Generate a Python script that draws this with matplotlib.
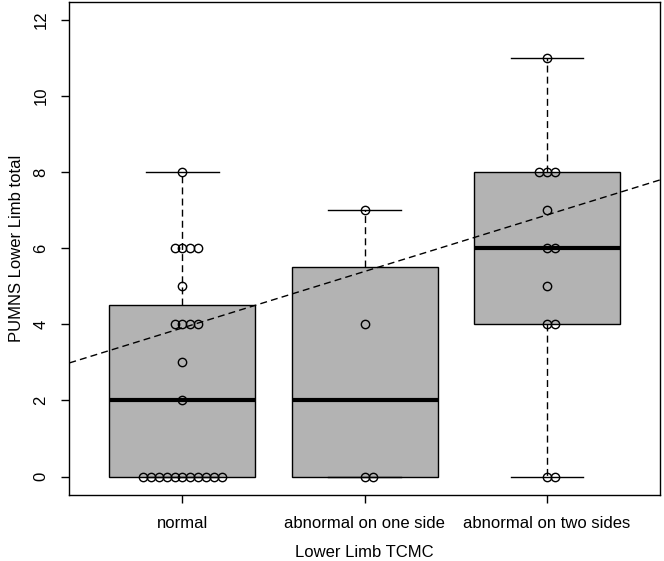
import numpy as np
import matplotlib
matplotlib.use("Agg")
import matplotlib.pyplot as plt

plt.rcParams['font.family'] = ['Liberation Sans', 'DejaVu Sans']

groups = ["normal", "abnormal on one side", "abnormal on two sides"]
normal = [0] * 11 + [2, 3, 4, 4, 4, 4, 5, 6, 6, 6, 6, 8]
one_side = [0, 0, 4, 7]
two_sides = [0, 0, 4, 4, 5, 6, 6, 7, 8, 8, 8, 11]
data = [normal, one_side, two_sides]
y_ticks = [0, 2, 4, 6, 8, 10, 12]


def fivenum(x):
    # Tukey hinges, as R's boxplot uses them
    x = np.sort(np.asarray(x, float))
    n = len(x)
    n4 = np.floor((n + 3) / 2) / 2
    d = np.array([1, n4, (n + 1) / 2, n + 1 - n4, n]) - 1
    return 0.5 * (x[np.floor(d).astype(int)] + x[np.ceil(d).astype(int)])


def box_stats(x):
    lo, q1, med, q3, hi = fivenum(x)
    iqr = q3 - q1
    x = np.asarray(x, float)
    inside = x[(x >= q1 - 1.5 * iqr) & (x <= q3 + 1.5 * iqr)]
    return dict(med=med, q1=q1, q3=q3, whislo=inside.min(), whishi=inside.max(), fliers=[])


def swarm_offsets(values, step):
    # same values spread out: 0, +1, -1, +2, -2 ... steps
    values = np.asarray(values, float)
    off = np.zeros(len(values))
    for v in np.unique(values):
        idx = np.where(values == v)[0]
        for k, i in enumerate(idx):
            j = (k + 1) // 2
            off[i] = j * step if k % 2 == 1 else -j * step
    return off


fig = plt.figure(figsize=(6.64, 5.61), dpi=100)
ax = fig.add_axes([0.1044, 0.118, 0.8896, 0.879])

positions = [1, 2, 3]
ax.bxp([box_stats(d) for d in data], positions=positions, widths=0.8,
       patch_artist=True, showfliers=False,
       boxprops=dict(facecolor='#B3B3B3', edgecolor='black', linewidth=1),
       medianprops=dict(color='black', linewidth=3, solid_capstyle='butt'),
       whiskerprops=dict(color='black', linewidth=1, linestyle=(0, (5, 3))),
       capprops=dict(color='black', linewidth=1))

for pos, vals in zip(positions, data):
    xs = pos + swarm_offsets(vals, 0.043)
    ax.plot(xs, vals, linestyle='none', marker='o', markersize=6,
            markerfacecolor='none', markeredgecolor='black',
            markeredgewidth=1, zorder=4)

# linear fit on group code (0, 1, 2), drawn in box coordinates
codes = np.concatenate([[i] * len(d) for i, d in enumerate(data)])
ys = np.concatenate(data)
slope, intercept = np.polyfit(codes, ys, 1)
ax.axline((0, intercept), slope=slope, color='black', linewidth=1,
          linestyle=(0, (5, 3)), zorder=3)

ax.set_xlim(0.38, 3.62)
ax.set_ylim(-0.48, 12.48)
ax.set_xticks(positions)
ax.set_xticklabels(groups, fontsize=12)
ax.set_yticks(y_ticks)
ax.set_yticklabels([str(t) for t in y_ticks], fontsize=12, rotation=90, va='center')
ax.tick_params(direction='out', length=6, width=1, color='black')
ax.tick_params(axis='x', pad=9)
ax.tick_params(axis='y', pad=9)
for s in ax.spines.values():
    s.set_linewidth(1)
    s.set_color('black')

ax.set_xlabel("Lower Limb TCMC", fontsize=12, labelpad=10)
ax.set_ylabel("PUMNS Lower Limb total", fontsize=12, labelpad=7)

fig.savefig("out.png", dpi=100)
